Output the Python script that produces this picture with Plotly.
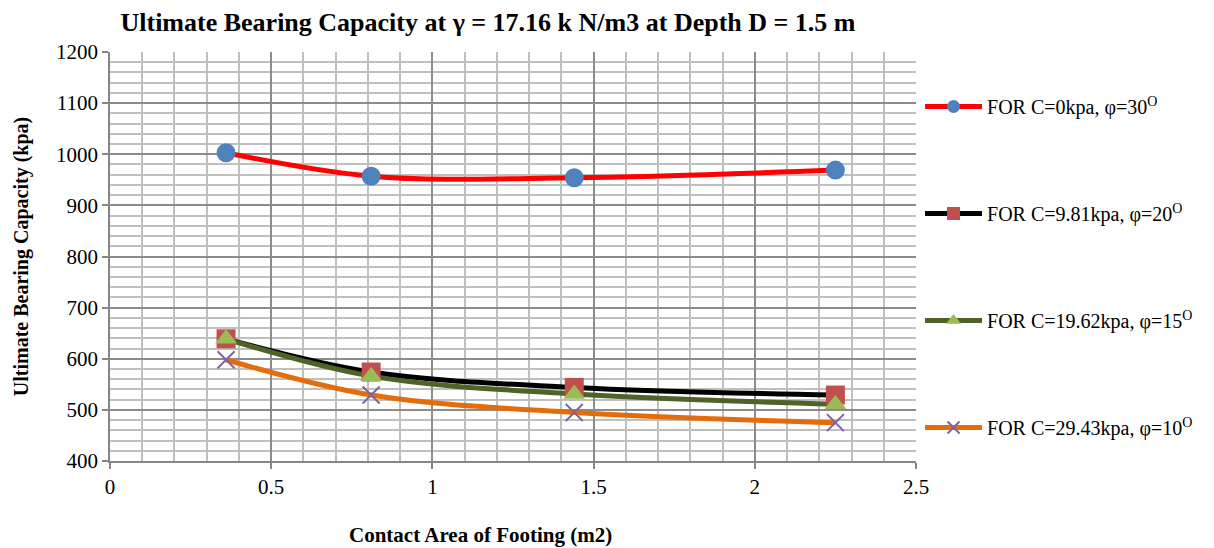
import plotly.graph_objects as go

# Contact area of the footing (m2) and ultimate bearing capacity (kpa)
area = [0.36, 0.81, 1.44, 2.25]
q_c0_phi30 = [1003, 957, 954, 969]
q_c981_phi20 = [639, 574, 544, 529]
q_c1962_phi15 = [639, 566, 531, 511]
q_c2943_phi10 = [598, 529, 495, 475]

series_names = [
    "FOR C=0kpa, φ=30<sup>O</sup>",
    "FOR C=9.81kpa, φ=20<sup>O</sup>",
    "FOR C=19.62kpa, φ=15<sup>O</sup>",
    "FOR C=29.43kpa, φ=10<sup>O</sup>",
]
series_values = [q_c0_phi30, q_c981_phi20, q_c1962_phi15, q_c2943_phi10]
line_colors = ["#FF0000", "#000000", "#4F6228", "#E46C0A"]
marker_symbols = ["circle", "square", "triangle-up", "x-thin"]
marker_colors = ["#4F81BD", "#C0504D", "#9BBB59", "#8064A2"]

SERIF = "Liberation Serif"

fig = go.Figure()

# smoothed lines first, so every marker sits on top of all lines
for name, vals, lc in zip(series_names, series_values, line_colors):
    fig.add_trace(go.Scatter(
        x=area, y=vals, mode="lines", showlegend=False, hoverinfo="skip",
        line=dict(color=lc, width=5, shape="spline"),
    ))

for name, vals, sym, mc in zip(series_names, series_values, marker_symbols, marker_colors):
    if sym == "x-thin":
        mk = dict(symbol=sym, size=17, color=mc, line=dict(color=mc, width=2))
    else:
        mk = dict(symbol=sym, size=19, color=mc, line=dict(width=0))
    fig.add_trace(go.Scatter(
        x=area, y=vals, mode="markers", name=name, showlegend=False, marker=mk,
    ))

# legend entries combining line and marker
for i, (name, lc, sym, mc) in enumerate(zip(series_names, line_colors, marker_symbols, marker_colors)):
    if sym == "x-thin":
        mk = dict(symbol=sym, size=12, color=mc, line=dict(color=mc, width=2))
    else:
        mk = dict(symbol=sym, size=13, color=mc, line=dict(width=0))
    fig.add_trace(go.Scatter(
        x=[None], y=[None], mode="lines+markers", name=name,
        legendgroup=f"g{i}", line=dict(color=lc, width=5), marker=mk,
    ))

axis_common = dict(
    showline=True, linecolor="#868686", linewidth=1.5,
    ticks="outside", ticklen=6, tickcolor="#868686", tickwidth=1.5,
    showgrid=True, gridcolor="#8C8C8C", gridwidth=1.5,
    zeroline=False, mirror=False,
    tickfont=dict(family=SERIF, size=21, color="#000000"),
)

fig.update_xaxes(
    range=[0, 2.5], dtick=0.5, tick0=0,
    minor=dict(dtick=0.1, showgrid=True, gridcolor="#BFBFBF", gridwidth=1.5, ticks=""),
    **axis_common,
)
fig.update_yaxes(
    range=[400, 1200], dtick=100, tick0=400,
    minor=dict(dtick=20, showgrid=True, gridcolor="#BFBFBF", gridwidth=1.5, ticks=""),
    title=dict(text="<b>Ultimate Bearing Capacity (kpa)</b>",
               font=dict(family=SERIF, size=20, color="#000000"), standoff=22),
    **axis_common,
)

fig.add_annotation(
    text="<b>Contact Area of Footing (m2)</b>", xref="paper", yref="paper",
    x=(480 - 110) / 806, y=-74 / 409, xanchor="center", yanchor="middle",
    showarrow=False, font=dict(family=SERIF, size=21, color="#000000"),
)

fig.update_layout(
    width=1214, height=548,
    margin=dict(l=110, r=298, t=52, b=87),
    paper_bgcolor="#FFFFFF", plot_bgcolor="#FFFFFF",
    title=dict(
        text="<b>Ultimate Bearing Capacity at γ = 17.16 k N/m3 at Depth D = 1.5 m</b>",
        x=488 / 1214, xanchor="center", y=1 - 22 / 548, yanchor="middle",
        font=dict(family=SERIF, size=26, color="#000000"),
    ),
    legend=dict(
        x=1.005, xanchor="left", y=1 - 35 / 409, yanchor="top",
        font=dict(family=SERIF, size=20, color="#000000"),
        tracegroupgap=78, itemwidth=57, bgcolor="rgba(0,0,0,0)",
    ),
    showlegend=True,
)

fig.write_html("out.html")
